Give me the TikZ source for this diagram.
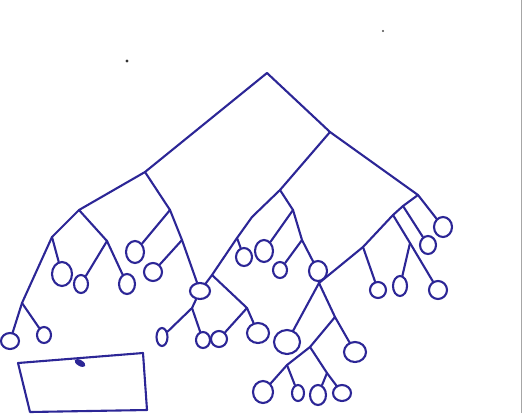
\documentclass[tikz,border=0pt]{standalone}
\usetikzlibrary{shapes.geometric}
\definecolor{ink}{RGB}{44,38,150}
\tikzset{
  leaf/.style={draw=ink, ellipse, inner sep=0pt, line width=2.1pt},
  edge/.style={draw=ink, line width=2.1pt, line cap=round, line join=round}
}
\newcommand{\lf}[5]{\node[leaf, minimum width=#4pt, minimum height=#5pt] (#1) at (#2,#3) {};}
\begin{document}
\begin{tikzpicture}[x=1pt,y=-1pt]
\useasboundingbox (0,0) rectangle (526,413);
% junctions
\coordinate (R) at (267,73);
\coordinate (C) at (330,132);
\coordinate (B) at (418,195);
\coordinate (A) at (145,172);
\coordinate (N1) at (79,210);
\coordinate (N2) at (52,237);
\coordinate (N3) at (22,303);
\coordinate (N4) at (107,241);
\coordinate (A1) at (170,210);
\coordinate (A2) at (182,240);
\coordinate (D) at (280,190);
\coordinate (D1) at (252,217);
\coordinate (E) at (237,238);
\coordinate (F) at (212,275);
\coordinate (G) at (247,308);
\coordinate (H) at (192,308);
\coordinate (P) at (293,210);
\coordinate (Q) at (302,240);
\coordinate (K) at (319,283);
\coordinate (B1) at (403,206);
\coordinate (B2) at (393,215);
\coordinate (B3) at (410,243);
\coordinate (B4) at (363,247);
\coordinate (M) at (335,317);
\coordinate (S) at (310,347);
\coordinate (T) at (287,365);
\coordinate (U) at (327,373);
% leaves
\lf{l1}{10}{341}{18}{16}
\lf{l2}{44}{335}{14}{16}
\lf{l3}{62}{274}{20}{24}
\lf{l4}{81}{284}{14}{18}
\lf{l5}{127}{284}{16}{20}
\lf{l6}{135}{252}{18}{22}
\lf{l7}{153}{272}{18}{18}
\lf{l8}{200}{291}{20}{16}
\lf{l9}{162}{337}{11}{18}
\lf{l10}{203}{340}{14}{16}
\lf{l11}{219}{339}{16}{16}
\lf{l12}{258}{333}{22}{20}
\lf{l13}{244}{257}{16}{18}
\lf{l14}{264}{251}{18}{22}
\lf{l15}{280}{270}{14}{16}
\lf{l16}{318}{271}{18}{20}
\lf{l17}{287}{342}{26}{24}
\lf{l18}{355}{352}{22}{20}
\lf{l19}{263}{392}{20}{22}
\lf{l20}{298}{393}{12}{16}
\lf{l21}{318}{395}{16}{20}
\lf{l22}{342}{393}{18}{16}
\lf{l23}{443}{227}{18}{20}
\lf{l24}{428}{245}{16}{18}
\lf{l25}{378}{290}{16}{16}
\lf{l26}{400}{286}{14}{20}
\lf{l27}{438}{290}{18}{18}
% edges
\draw[edge] (A) -- (R) -- (C) -- (B);
\draw[edge] (A) -- (N1) -- (N2) -- (N3);
\draw[edge] (N2) -- (l3);
\draw[edge] (N3) -- (l1);
\draw[edge] (N3) -- (l2);
\draw[edge] (N1) -- (N4) -- (l4);
\draw[edge] (N4) -- (l5);
\draw[edge] (A) -- (A1) -- (A2) -- (l8);
\draw[edge] (A1) -- (l6);
\draw[edge] (A2) -- (l7);
\draw[edge] (C) -- (D) -- (D1) -- (E) -- (F) -- (l8);
\draw[edge] (E) -- (l13);
\draw[edge] (F) -- (G) -- (l12);
\draw[edge] (G) -- (l11);
\draw[edge] (l8) -- (H) -- (l9);
\draw[edge] (H) -- (l10);
\draw[edge] (D) -- (P) -- (l14);
\draw[edge] (P) -- (Q) -- (l16);
\draw[edge] (Q) -- (l15);
\draw[edge] (l16) -- (K);
\draw[edge] (B) -- (l23);
\draw[edge] (B) -- (B1) -- (B2) -- (B4) -- (K);
\draw[edge] (B1) -- (l24);
\draw[edge] (B2) -- (B3) -- (l26);
\draw[edge] (B3) -- (l27);
\draw[edge] (B4) -- (l25);
\draw[edge] (K) -- (l17);
\draw[edge] (K) -- (M) -- (l18);
\draw[edge] (M) -- (S) -- (T) -- (l19);
\draw[edge] (T) -- (l20);
\draw[edge] (S) -- (U) -- (l21);
\draw[edge] (U) -- (l22);
% box
\coordinate (b1) at (18,363);
\coordinate (b2) at (143,353);
\coordinate (b3) at (147,410);
\coordinate (b4) at (30,412);
\draw[edge] (b1) -- (b2) -- (b3) -- (b4) -- cycle;
\fill[ink, rotate around={-30:(80,363)}] (80,363) ellipse (6pt and 3pt);
% specks and scan edge
\fill[black!80] (127,61) circle (1.6pt);
\fill[black!70] (383,31) circle (1.1pt);
\draw[black!35, line width=0.8pt] (521,0) -- (521,413);
\end{tikzpicture}
\end{document}
